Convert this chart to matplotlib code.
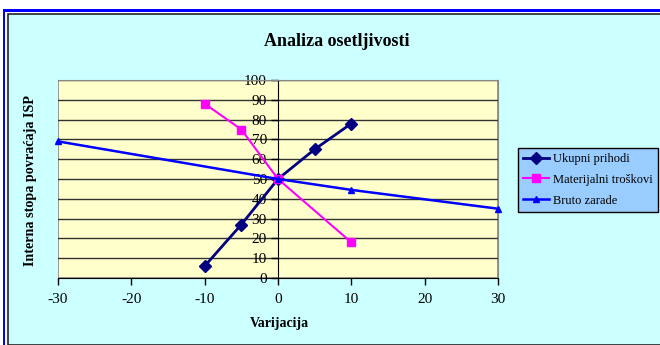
#!/usr/bin/env python3

import matplotlib.pyplot as plt
from matplotlib.lines import Line2D
from matplotlib.patches import Rectangle

prihodi_x = [-10, -5, 0, 5, 10]
prihodi_y = [6, 27, 50, 65, 78]

troskovi_x = [-10, -5, 0, 10]
troskovi_y = [88, 75, 50, 18]

zarade_x = [-30, 0, 10, 30]
zarade_y = [69, 50, 44.5, 35]

x_ticks = [-30, -20, -10, 0, 10, 20, 30]
y_ticks = list(range(0, 101, 10))

plt.rcParams["font.family"] = "Liberation Serif"
plt.rcParams["axes.unicode_minus"] = False

fig = plt.figure(figsize=(6.6, 3.45), dpi=100)
W, H = 660, 345

# frame: blue outer lines, dark inner line, cyan fill (behind the axes)
fig.patches.append(Rectangle((3 / W, 0), 2 / W, 1 - 10 / H, transform=fig.transFigure,
                             facecolor="#0000ff", edgecolor="none", zorder=-3))
fig.patches.append(Rectangle((3 / W, 1 - 12 / H), 1, 2.5 / H, transform=fig.transFigure,
                             facecolor="#0000ff", edgecolor="none", zorder=-3))
fig.patches.append(Rectangle((8 / W, 0), 1, 1 - 14 / H, transform=fig.transFigure,
                             facecolor="#ccffff", edgecolor="#222222", linewidth=1.2,
                             zorder=-2))

ax = fig.add_axes([58 / W, 1 - 278 / H, 440 / W, 198 / H])
ax.set_facecolor("#ffffcc")
ax.set_xlim(-30, 30)
ax.set_ylim(0, 100)

for y in y_ticks[1:]:
    ax.axhline(y, color="#333333", linewidth=1.0, zorder=1)

ax.plot(prihodi_x, prihodi_y, color="#000080", linewidth=2, marker="D", markersize=6,
        label="Ukupni prihodi", zorder=3, clip_on=False)
ax.plot(troskovi_x, troskovi_y, color="#ff00ff", linewidth=1.5, marker="s", markersize=6,
        label="Materijalni troškovi", zorder=3, clip_on=False)
ax.plot(zarade_x, zarade_y, color="#0000ff", linewidth=1.8, marker="^", markersize=5,
        label="Bruto zarade", zorder=3, clip_on=False)

ax.spines["left"].set_position(("data", 0))
ax.spines["left"].set_color("black")
ax.spines["left"].set_zorder(2)
ax.spines["bottom"].set_color("black")
ax.spines["top"].set_color("#888888")
ax.spines["right"].set_color("#888888")
ax.add_patch(Rectangle((0, 0), 1, 1, transform=ax.transAxes, fill=False,
                       edgecolor="#888888", linewidth=1.2, zorder=0.5))

ax.set_xticks(x_ticks)
ax.set_yticks(y_ticks)
ax.tick_params(axis="both", direction="out", length=5, width=1, labelsize=11, pad=3)
ax.tick_params(axis="x", pad=6)

fig.text(337 / W, 1 - 41 / H, "Analiza osetljivosti", ha="center", va="center",
         fontsize=13, fontweight="bold")
fig.text(31 / W, 1 - 180 / H, "Interna stopa povraćaja ISP", ha="center", va="center",
         rotation=90, fontsize=10.2, fontweight="bold")
fig.text(279 / W, 1 - 324 / H, "Varijacija", ha="center", va="center",
         fontsize=10, fontweight="bold")

handles = [
    Line2D([], [], color="#000080", linewidth=2, marker="D", markersize=6),
    Line2D([], [], color="#ff00ff", linewidth=1.5, marker="s", markersize=6),
    Line2D([], [], color="#0000ff", linewidth=1.8, marker="^", markersize=5),
]
leg = fig.legend(handles, ["Ukupni prihodi", "Materijalni troškovi", "Bruto zarade"],
                 loc="upper left", bbox_to_anchor=(518 / W, 1 - 148 / H),
                 fontsize=9, frameon=True, fancybox=False, handlelength=2.1,
                 handletextpad=0.3, borderpad=0.4, labelspacing=0.7, borderaxespad=0)
leg.get_frame().set_facecolor("#99ccff")
leg.get_frame().set_edgecolor("black")
leg.get_frame().set_linewidth(1)
leg.get_frame().set_alpha(1)

fig.savefig("out.png", dpi=100, facecolor="white")
